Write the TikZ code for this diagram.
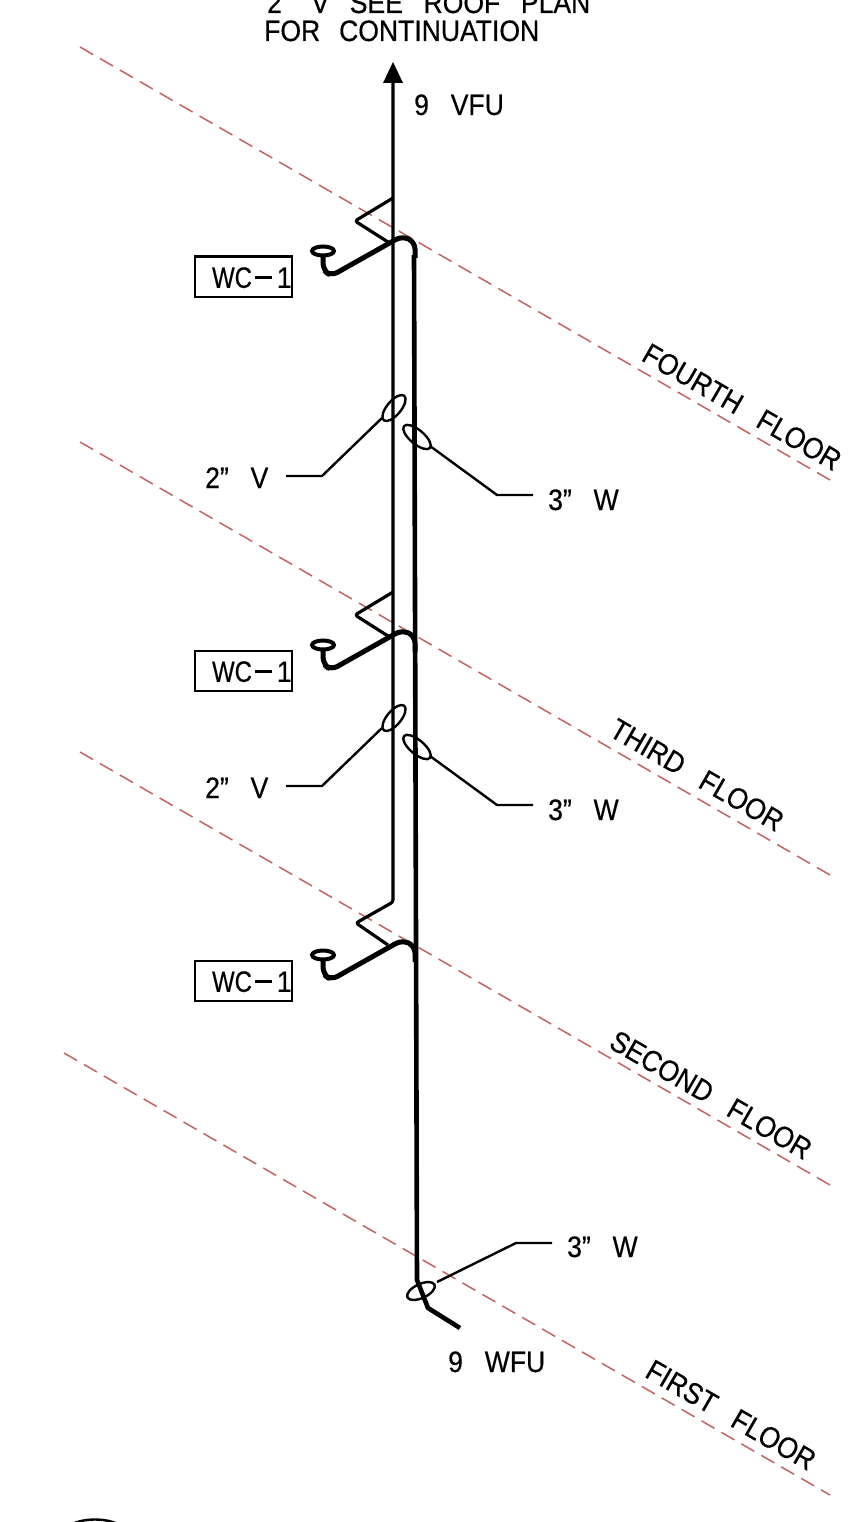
\documentclass[tikz,border=0pt]{standalone}
\usepackage{fontspec}
\newfontfamily\cad[FakeStretch=0.9,FakeBold=0.4]{Liberation Sans}
\newcommand{\gp}{\hspace{0.74em}}
\definecolor{floorred}{HTML}{C26464}
\tikzset{
  x=1pt,y=-1pt,
  floorline/.style={draw=floorred,line width=1.5pt,dash pattern=on 15pt off 8pt},
  vent/.style={line width=3.2pt,line join=round,rounded corners=2.5pt},
  waste/.style={line width=5pt,line join=round,rounded corners=7pt},
  leader/.style={line width=2.4pt,line join=round},
  tag/.style={draw,line width=2.4pt,minimum width=97pt,minimum height=40pt,inner sep=0pt,anchor=north west},
  cadtext/.style={inner sep=0pt,font=\cad\fontsize{29.5}{31}\selectfont},
}
\begin{document}
\begin{tikzpicture}
\useasboundingbox (0,0) rectangle (849,1522);
\clip (0,0) rectangle (849,1522);
\fill[white] (0,0) rectangle (849,1522);
% floor lines
\draw[floorline] (80,47) -- (830,480);
\draw[floorline] (80,442) -- (830,875);
\draw[floorline] (80,752) -- (830,1185);
\draw[floorline] (64,1053) -- (830,1495);
% vent stack
\draw[vent] (393,78) -- (393,902) -- (356,923) -- (388,945);
\fill (393,62) -- (403,83) -- (383,83) -- cycle;
\draw[vent] (393,198) -- (355,221) -- (388,242);
\draw[vent] (393,592) -- (355,615) -- (388,636);
% waste stack
\draw[line width=4.6pt,line join=round] (414,255) -- (417,1280) -- (428,1308) -- (460,1328);
\foreach \dy in {0,394,704}{
  \draw[waste,yshift=-\dy pt] (323,254) -- (323,270) -- (331,276) -- (402,236) -- (415,242) -- (415,258);
  \draw[line width=4pt,yshift=-\dy pt] (323,251) ellipse [x radius=11pt,y radius=4.5pt];
}
% size ovals and leaders
\foreach \dy in {0,310}{
  \draw[leader,yshift=-\dy pt,rotate around={50:(394,408)}] (394,408) ellipse [x radius=16pt,y radius=7pt];
  \draw[leader,yshift=-\dy pt,rotate around={-40:(417,437)}] (417,437) ellipse [x radius=17pt,y radius=7pt];
  \draw[leader,yshift=-\dy pt] (382,418) -- (322,476) -- (286,476);
  \draw[leader,yshift=-\dy pt] (430,446) -- (497,495) -- (533,495);
}
\draw[leader,rotate around={25:(421,1291)}] (421,1291) ellipse [x radius=15pt,y radius=7pt];
\draw[leader] (437,1282) -- (516,1243) -- (552,1243);
% tags
\node[tag] (wc1) at (194,255.5) {};
\node[tag] (wc2) at (194,649.5) {};
\node[tag] (wc3) at (194,959.5) {};
\foreach \n in {wc1,wc2,wc3}
  \node[cadtext,anchor=east] at ([xshift=-1.5pt,yshift=-1pt]\n.east) {\scalebox{0.9}[1]{WC}\hspace{3pt}\rule[0.3em]{17pt}{2.6pt}\hspace{5pt}1};
% texts
\node[cadtext,anchor=base west] (t1) at (267,13) {2”\hspace{0.7em}V\hspace{0.7em}SEE\hspace{0.7em}ROOF\hspace{0.7em}PLAN};
\node[cadtext,anchor=base west] (t2) at (264,41) {FOR\hspace{0.64em}CONTINUATION};
\node[cadtext,anchor=base west] (t3) at (414,115) {9\gp VFU};
\node[cadtext,anchor=base west] (t4) at (205,488) {2”\gp V};
\node[cadtext,anchor=base west] (t5) at (548,510) {3”\gp W};
\node[cadtext,anchor=base west] (t6) at (205,798) {2”\gp V};
\node[cadtext,anchor=base west] (t7) at (548,820) {3”\gp W};
\node[cadtext,anchor=base west] (t8) at (567,1257) {3”\gp W};
\node[cadtext,anchor=base west] (t9) at (448,1372) {9\gp WFU};
\node[cadtext,rotate=-30] (f4) at (742,407) {FOURTH\gp FLOOR};
\node[cadtext,rotate=-30] (f3) at (697,775) {THIRD\gp FLOOR};
\node[cadtext,rotate=-30] (f2) at (711,1095) {SECOND\gp FLOOR};
\node[cadtext,rotate=-30] (f1) at (731,1415) {FIRST\gp FLOOR};
% partial circle at the bottom edge
\draw[line width=2.4pt] (72,1524) .. controls (85,1518) and (105,1518) .. (118,1524);
\end{tikzpicture}
\end{document}
